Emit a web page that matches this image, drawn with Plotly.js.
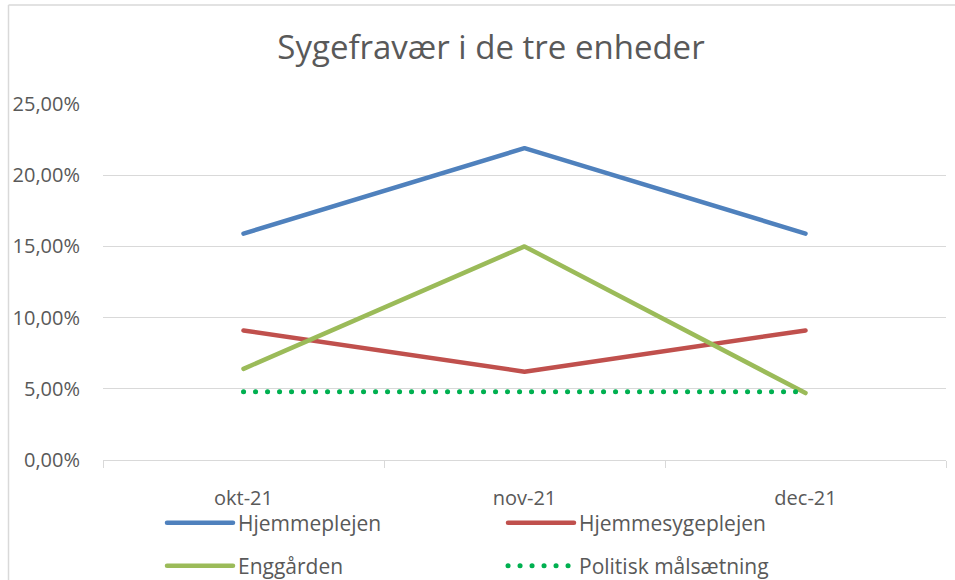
<!DOCTYPE html>
<html>
<head>
<meta charset="utf-8">
<script src="https://cdn.plot.ly/plotly-3.0.1.min.js"></script>
<style>
html,body{margin:0;padding:0;background:#fff}
#chart{width:955px;height:580px}
#chart path.js-line{stroke-linecap:round;stroke-linejoin:round}
</style>
</head>
<body>
<div id="chart"></div>
<script>
const categories = ["okt-21", "nov-21", "dec-21"];
const hjemmeplejen = [0.159, 0.219, 0.159];
const hjemmesygeplejen = [0.091, 0.062, 0.091];
const enggaarden = [0.064, 0.150, 0.047];
const politisk = [0.048, 0.048, 0.048];
const yTicks = [0, 0.05, 0.10, 0.15, 0.20, 0.25];

const font = "'Open Sans', sans-serif";
const grey = "#595959";

const traces = [
  {x: categories, y: hjemmeplejen, name: "Hjemmeplejen", type: "scatter", mode: "lines",
   line: {color: "#4F81BD", width: 4.5}, legend: "legend"},
  {x: categories, y: hjemmesygeplejen, name: "Hjemmesygeplejen", type: "scatter", mode: "lines",
   line: {color: "#C0504D", width: 4.5}, legend: "legend"},
  {x: categories, y: enggaarden, name: "Enggården", type: "scatter", mode: "lines",
   line: {color: "#9BBB59", width: 4.5}, legend: "legend2"},
  {x: categories, y: politisk, name: "Politisk målsætning", type: "scatter", mode: "lines",
   line: {color: "#00B050", width: 5, dash: "0.1px,11.9px"}, legend: "legend2"}
];

const L = 103, R = 9, T = 104, B = 120;
const pw = 955 - L - R, ph = 580 - T - B;
const px = v => (v - L) / pw;
const py = v => (580 - B - v) / ph;

const legendCommon = {
  orientation: "h", xref: "container", yref: "container",
  xanchor: "left", yanchor: "middle",
  font: {family: font, size: 21, color: grey},
  itemwidth: 66, entrywidth: 260, bgcolor: "rgba(0,0,0,0)"
};

const layout = {
  width: 955, height: 580,
  margin: {l: L, r: R, t: T, b: B},
  paper_bgcolor: "#fff", plot_bgcolor: "#fff",
  separators: ", ",
  title: {text: "Sygefravær i de tre enheder", font: {family: font, size: 33, color: grey},
          x: 491 / 955, xanchor: "center", y: 1 - 47 / 580, yanchor: "middle"},
  xaxis: {
    type: "category", range: [-0.5, 2.5],
    showgrid: false, showline: true, linecolor: "#d9d9d9", linewidth: 1,
    ticks: "outside", tickson: "boundaries", ticklen: 7, tickcolor: "#d9d9d9",
    ticklabelstandoff: 20,
    tickfont: {family: font, size: 20, color: grey}, zeroline: false
  },
  yaxis: {
    range: [0, 0.25], tickvals: yTicks, tickformat: ".2%",
    showgrid: true, gridcolor: "#d9d9d9", gridwidth: 1, zeroline: false,
    showline: false, ticklabelstandoff: 22,
    tickfont: {family: font, size: 20, color: grey}
  },
  legend: Object.assign({}, legendCommon, {x: 162 / 955, y: 1 - 523 / 580}),
  legend2: Object.assign({}, legendCommon, {x: 162 / 955, y: 1 - 566 / 580}),
  shapes: [
    {type: "line", xref: "paper", yref: "paper", x0: px(8.5), x1: px(8.5), y0: py(5), y1: py(585),
     line: {color: "#d9d9d9", width: 1.5}},
    {type: "line", xref: "paper", yref: "paper", x0: px(8.5), x1: px(960), y0: py(5), y1: py(5),
     line: {color: "#d9d9d9", width: 1.5}}
  ]
};

Plotly.newPlot("chart", traces, layout, {displayModeBar: false, staticPlot: true});
</script>
</body>
</html>
